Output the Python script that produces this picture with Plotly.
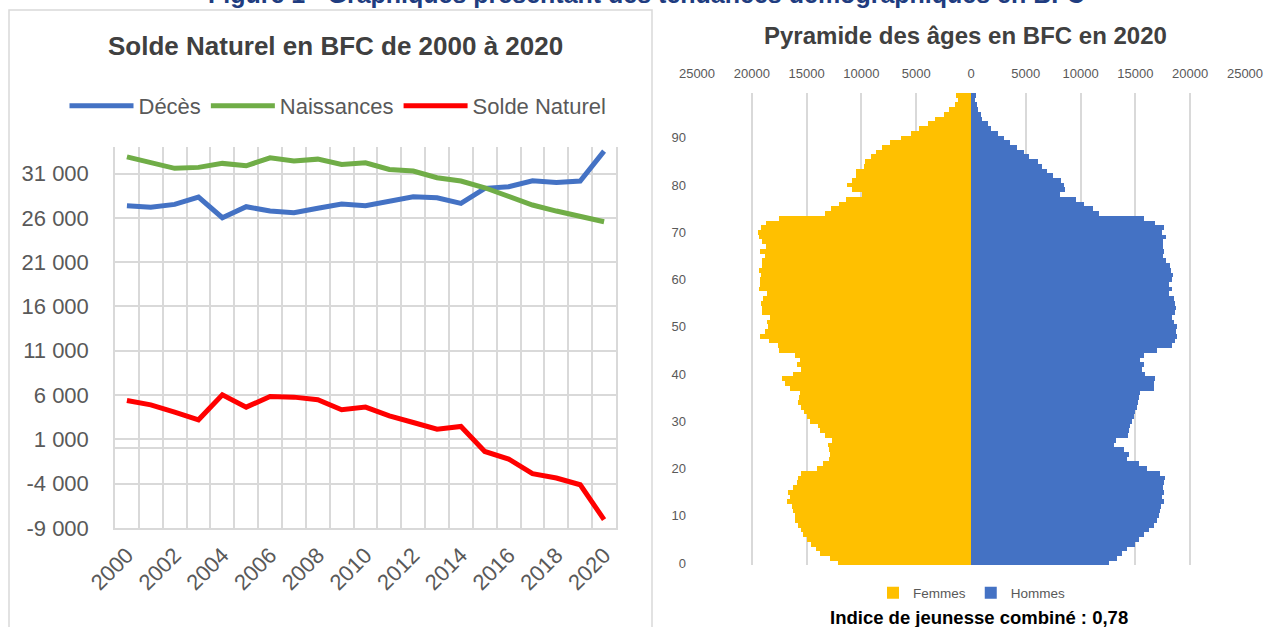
import plotly.graph_objects as go

W, H = 1268, 627

# ---------------- Data: Solde naturel ----------------
years = list(range(2000, 2021))
deces = [27370, 27190, 27520, 28350, 26020, 27260, 26770, 26580, 27080, 27560, 27370,
         27900, 28380, 28270, 27640, 29330, 29520, 30190, 30000, 30150, 33540]
naissances = [32890, 32260, 31590, 31700, 32150, 31880, 32780, 32410, 32630, 32040, 32220,
              31470, 31280, 30530, 30155, 29400, 28385, 27450, 26770, 26130, 25570]
solde = [5390, 4900, 4080, 3210, 6030, 4640, 5840, 5770, 5470, 4340, 4640,
         3660, 2910, 2160, 2460, -360, -1220, -2870, -3360, -4115, -8060]
year_ticks = list(range(2000, 2021, 2))
value_ticks = list(range(-9000, 31001, 5000))

# ---------------- Data: Pyramide des âges 2020 ----------------
ages = list(range(0, 100))
femmes = [12120, 12880, 13790, 14180, 14600, 15000, 15300, 15510, 15760, 16060,
          16060, 16210, 16300, 16820, 16510, 16670, 16210, 15910, 15760, 15510,
          14090, 13480, 12970, 12880, 12970, 13090, 12670, 13330, 13790, 14000,
          14700, 15000, 15210, 15510, 15820, 15700, 15600, 16510, 16970, 17270,
          16210, 15510, 15910, 15600, 16060, 17510, 17570, 18420, 19240, 18790,
          18480, 18630, 18330, 19030, 19090, 19150, 18940, 18630, 19330, 19240,
          19210, 19150, 19330, 19090, 19030, 18790, 19240, 18730, 19090, 19330,
          19390, 19180, 18730, 17510, 13330, 12730, 12060, 11360, 9940, 10820,
          11270, 10900, 10450, 10510, 9790, 9640, 9150, 8700, 8120, 7420,
          6360, 5510, 4790, 3940, 3270, 2420, 1970, 1480, 1150, 1360]
hommes = [12570, 13330, 13790, 14240, 15000, 15300, 15820, 16210, 16670, 16970,
          17120, 17210, 17330, 17630, 17420, 17570, 17510, 17570, 17730, 17270,
          16060, 15300, 14240, 14390, 13940, 13030, 13270, 14300, 14390, 14540,
          14700, 14850, 15000, 15150, 15210, 15300, 15390, 16670, 16730, 16820,
          15910, 15600, 15760, 15390, 15820, 16970, 18330, 18630, 18790, 18730,
          18790, 18480, 18330, 18630, 18730, 18630, 18480, 18030, 18330, 18030,
          18330, 18420, 18240, 18180, 17820, 17510, 17570, 17510, 17510, 17820,
          17420, 17630, 16820, 15760, 11670, 11150, 10300, 9540, 8120, 8570,
          8480, 8180, 7510, 6970, 6450, 6120, 5300, 4850, 4180, 3580,
          2970, 2420, 1820, 1580, 1030, 910, 670, 520, 390, 450]
pop_ticks = list(range(-25000, 25001, 5000))
pop_grid = list(range(-20000, 20001, 5000))
age_ticks = list(range(0, 91, 10))


def fmt_space(v):
    s = f"{abs(v):,}".replace(",", " ")
    return ("-" if v < 0 else "") + s


FONT = "Liberation Sans, Arial, sans-serif"
GREY = "#595959"
GRID = "#D9D9D9"


def px(p):
    return p / W


def py(p):
    return 1 - p / H


fig = go.Figure()

# Line chart
fig.add_trace(go.Scatter(x=years, y=deces, name="Décès", mode="lines",
                         line=dict(color="#4472C4", width=5), xaxis="x", yaxis="y", legend="legend"))
fig.add_trace(go.Scatter(x=years, y=naissances, name="Naissances", mode="lines",
                         line=dict(color="#70AD47", width=5), xaxis="x", yaxis="y", legend="legend"))
fig.add_trace(go.Scatter(x=years, y=solde, name="Solde Naturel", mode="lines",
                         line=dict(color="#FF0000", width=5), xaxis="x", yaxis="y", legend="legend"))

# Pyramid
fig.add_trace(go.Bar(y=ages, x=[-v for v in femmes], orientation="h", name="Femmes",
                     marker=dict(color="#FFC000", line=dict(width=0)),
                     xaxis="x2", yaxis="y2", legend="legend2"))
fig.add_trace(go.Bar(y=ages, x=hommes, orientation="h", name="Hommes",
                     marker=dict(color="#4472C4", line=dict(width=0)),
                     xaxis="x3", yaxis="y2", legend="legend2"))

fig.update_layout(
    width=W, height=H,
    margin=dict(l=0, r=0, t=0, b=0, pad=0, autoexpand=False),
    paper_bgcolor="white", plot_bgcolor="white",
    font=dict(family=FONT, color=GREY),
    barmode="relative", bargap=0,
    xaxis=dict(
        domain=[px(115), px(616)], range=[1999.5, 2020.5], anchor="y",
        tickmode="array", tickvals=year_ticks, ticktext=[str(y) for y in year_ticks],
        tickangle=-45, tickfont=dict(size=22, color=GREY),
        showgrid=False, zeroline=False, ticks="",
        showline=True, linecolor=GRID, linewidth=1.5,
        minor=dict(tick0=1999.5, dtick=1, showgrid=True, gridcolor=GRID, gridwidth=1.5, ticks=""),
        ticklabelstandoff=4,
    ),
    yaxis=dict(
        domain=[py(528), py(147)], range=[-9000, 34000], anchor="x",
        tickmode="array", tickvals=value_ticks, ticktext=[fmt_space(v) for v in value_ticks],
        tickfont=dict(size=22, color=GREY),
        showgrid=True, gridcolor=GRID, gridwidth=1.5,
        zeroline=True, zerolinecolor=GRID, zerolinewidth=1.5,
        showline=True, mirror=True, linecolor=GRID, linewidth=1.5, ticks="",
        ticklabelstandoff=20,
    ),
    xaxis2=dict(
        domain=[px(697), px(1245)], range=[-25000, 25000], anchor="y2",
        tickmode="array", tickvals=pop_grid, showticklabels=False,
        showgrid=True, gridcolor=GRID, gridwidth=1.5, zeroline=False, ticks="",
    ),
    xaxis3=dict(
        overlaying="x2", anchor="y2", side="top", range=[-25000, 25000],
        tickmode="array", tickvals=pop_ticks, ticktext=[str(abs(v)) for v in pop_ticks],
        tickfont=dict(size=13, color=GREY),
        showgrid=False, zeroline=True, zerolinecolor="#C8D0DC", zerolinewidth=1,
        layer="above traces", ticks="", ticklabelstandoff=11,
    ),
    yaxis2=dict(
        domain=[py(565.4), py(93)], range=[-0.5, 99.5], anchor="x2",
        tickmode="array", tickvals=age_ticks, ticktext=[str(a) for a in age_ticks],
        tickfont=dict(size=13, color=GREY),
        showgrid=False, zeroline=False, ticks="", ticklabelstandoff=10,
    ),
    legend=dict(
        orientation="h", x=px(338), xanchor="center", y=py(106), yanchor="middle",
        font=dict(size=22, color=GREY), bgcolor="rgba(0,0,0,0)", itemwidth=64,
    ),
    legend2=dict(
        orientation="h", x=px(972), xanchor="center", y=py(593), yanchor="middle",
        font=dict(size=13.5, color=GREY), bgcolor="rgba(0,0,0,0)", itemwidth=30,
    ),
    showlegend=True,
)

fig.add_annotation(text="<b>Figure 1 - Graphiques présentant des tendances démographiques en BFC</b>",
                   x=px(646), y=py(-6), xref="paper", yref="paper", showarrow=False,
                   xanchor="center", yanchor="middle", font=dict(size=25, color="#203C80", family=FONT))
fig.add_annotation(text="<b>Solde Naturel en BFC de 2000 à 2020</b>",
                   x=px(335), y=py(46), xref="paper", yref="paper", showarrow=False,
                   xanchor="center", yanchor="middle", font=dict(size=26, color="#404040", family=FONT))
fig.add_annotation(text="<b>Pyramide des âges en BFC en 2020</b>",
                   x=px(965), y=py(35), xref="paper", yref="paper", showarrow=False,
                   xanchor="center", yanchor="middle", font=dict(size=24, color="#404040", family=FONT))
fig.add_annotation(text="<b>Indice de jeunesse combiné : 0,78</b>",
                   x=px(979), y=py(617), xref="paper", yref="paper", showarrow=False,
                   xanchor="center", yanchor="middle", font=dict(size=18.5, color="#000000", family=FONT))

fig.add_shape(type="rect", xref="paper", yref="paper",
              x0=px(9), x1=px(652), y0=-0.05, y1=py(10),
              line=dict(color=GRID, width=1.5), fillcolor="rgba(0,0,0,0)", layer="below")

# The page body has a default 8px margin; remove it so the figure sits at the window origin.
fig.write_html("out.html", config={"displayModeBar": False},
               post_script="document.body.style.margin='0px';")
